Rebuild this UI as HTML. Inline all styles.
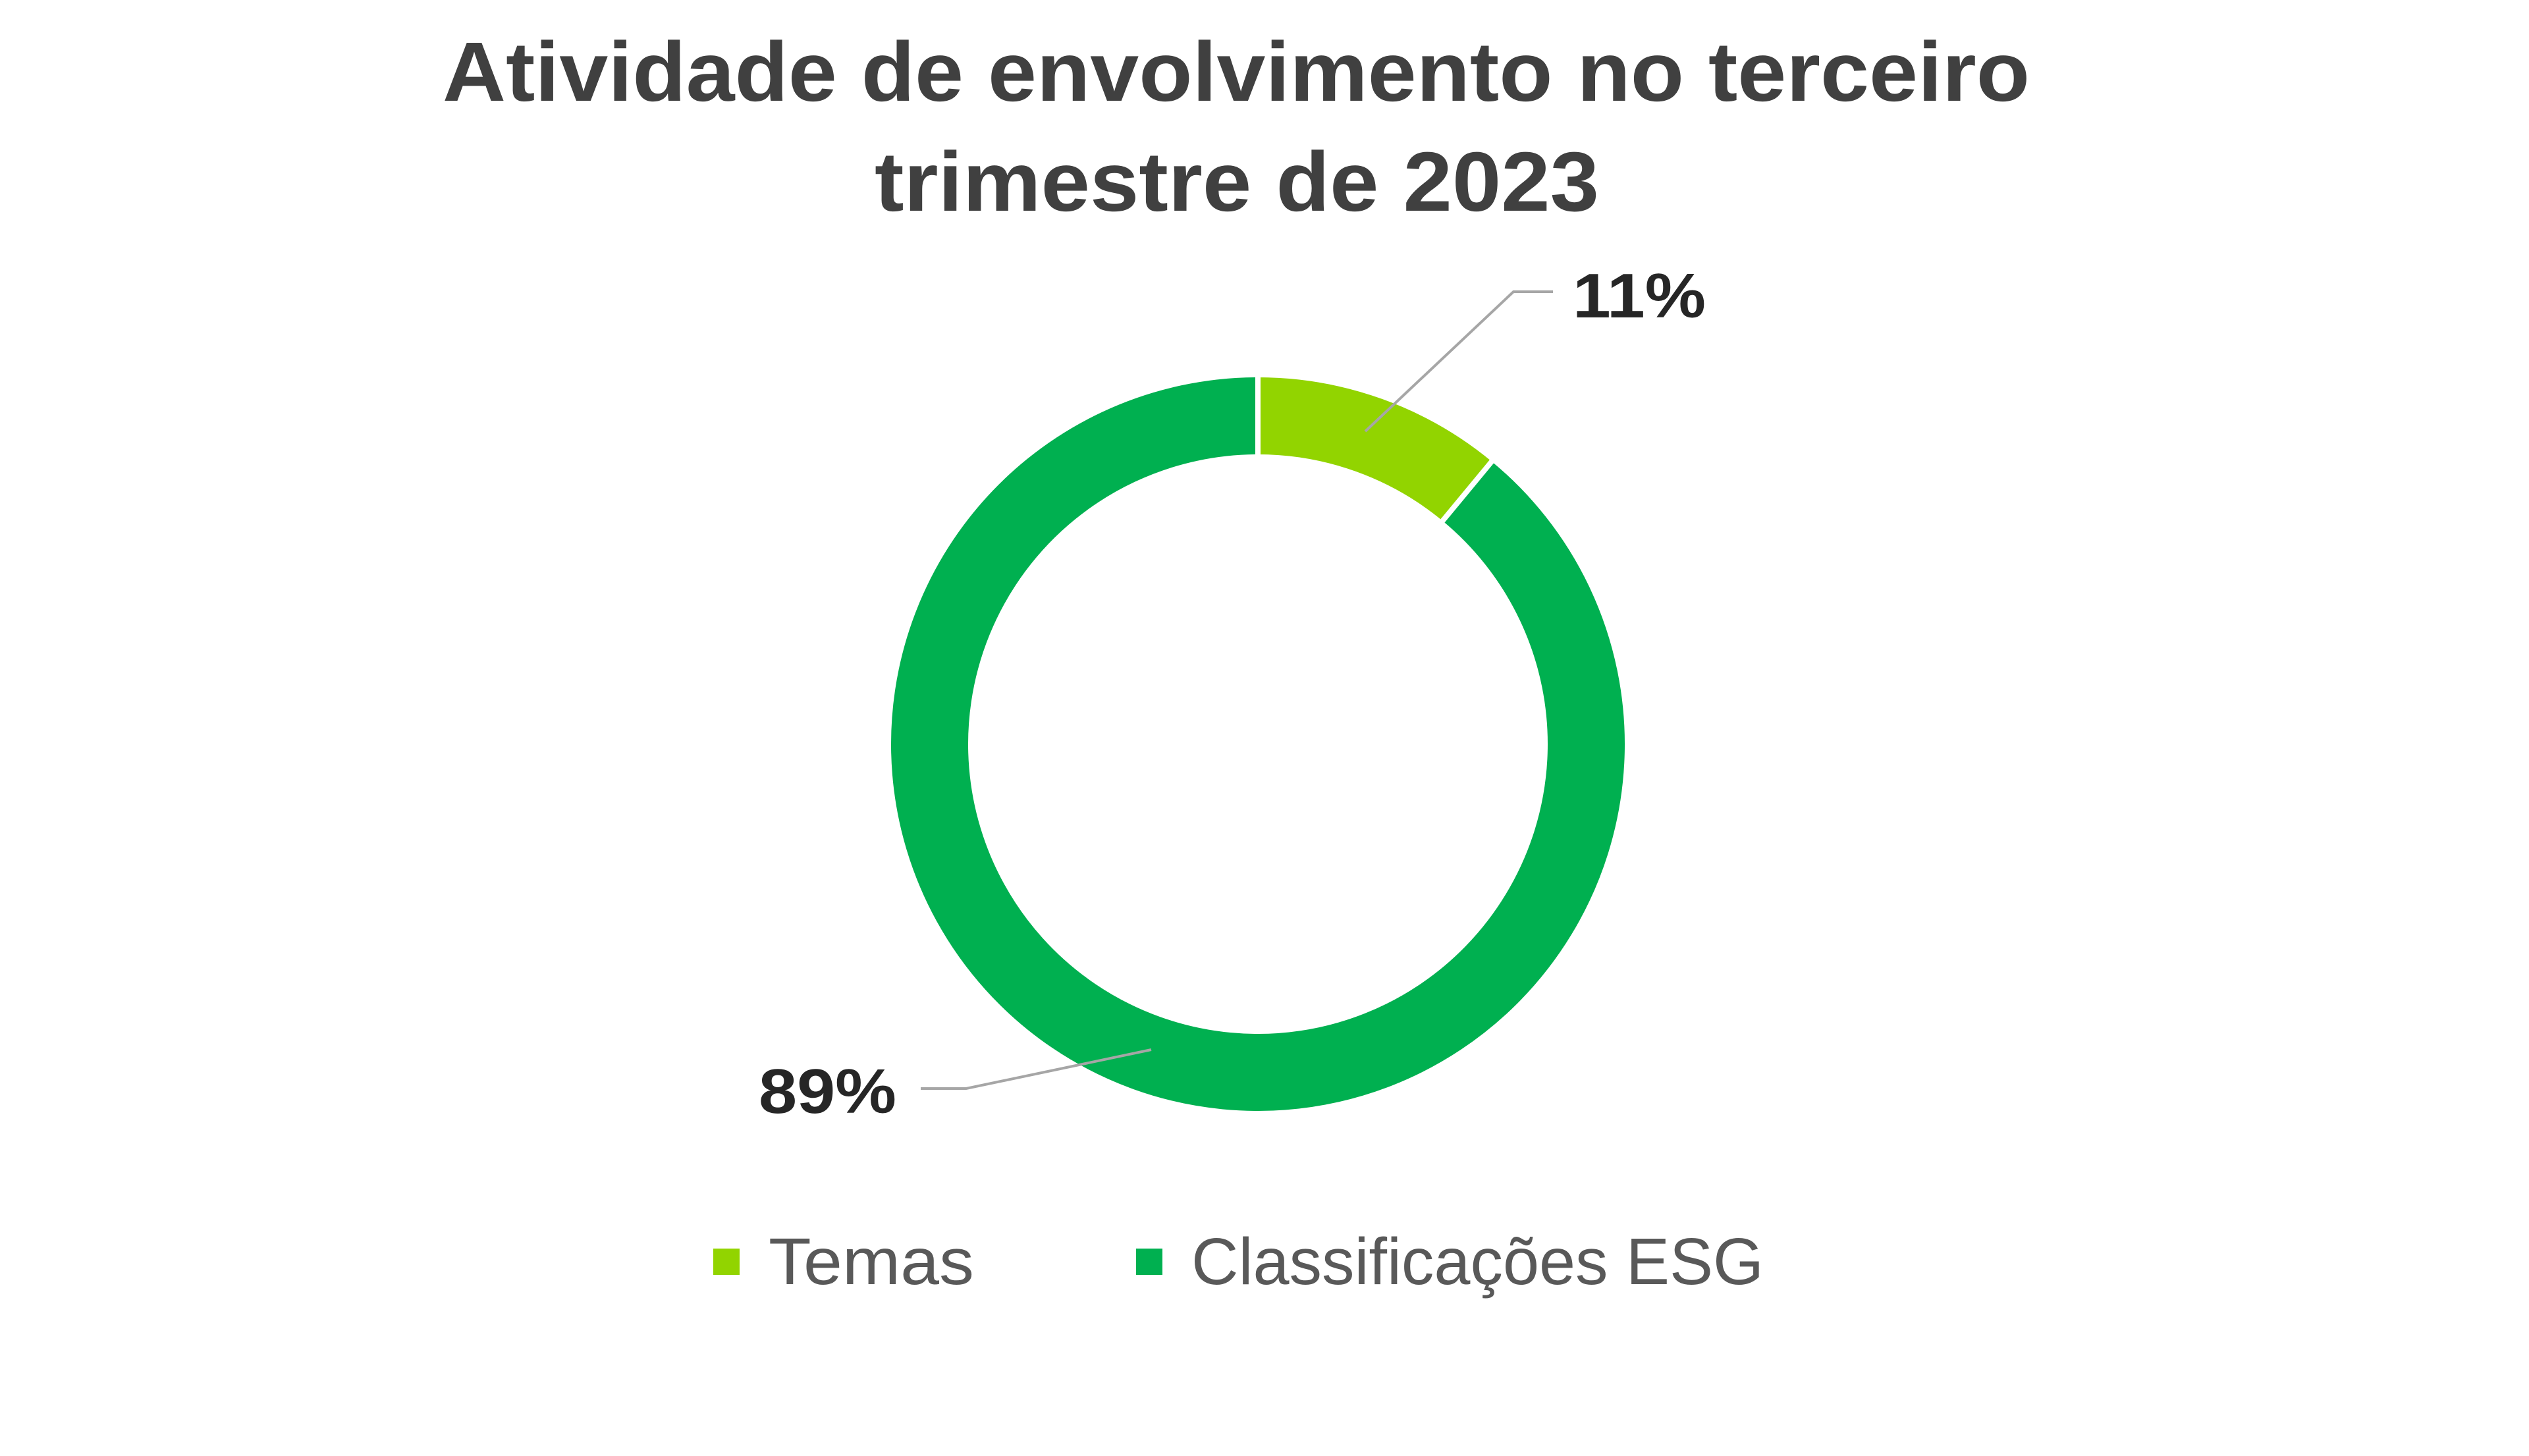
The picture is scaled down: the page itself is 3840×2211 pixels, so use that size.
<!DOCTYPE html>
<html><head><meta charset="utf-8"><style>
html,body{margin:0;padding:0;background:#fff;}
svg{display:block;}
text{font-family:"Liberation Sans",sans-serif;}
</style></head><body>
<svg id="chart" width="3840" height="2211" viewBox="0 0 3840 2211">
<text x="1877" y="153" text-anchor="middle" font-size="128" font-weight="bold" fill="#404040" textLength="2410" lengthAdjust="spacingAndGlyphs">Atividade de envolvimento no terceiro</text>
<text x="1878" y="320" text-anchor="middle" font-size="128" font-weight="bold" fill="#404040" textLength="1100" lengthAdjust="spacingAndGlyphs">trimestre de 2023</text>
<g id="slices"></g>
<polyline points="2073,655 2298,443 2358,443" fill="none" stroke="#a6a6a6" stroke-width="4"/>
<polyline points="1398,1653 1467,1653 1748,1594" fill="none" stroke="#a6a6a6" stroke-width="4"/>
<g id="labels"></g>
<rect x="1083" y="1896" width="40" height="40" fill="#92d400"/>
<text x="1167" y="1950" font-size="100" fill="#595959" textLength="312" lengthAdjust="spacingAndGlyphs">Temas</text>
<rect x="1725" y="1896" width="40" height="40" fill="#00b050"/>
<text x="1809" y="1950" font-size="100" fill="#595959" textLength="869" lengthAdjust="spacingAndGlyphs">Classificações ESG</text>
</svg>
<script>
const categories = ["Temas", "Classificações ESG"];
const values = [11, 89];
const colors = ["#92d400", "#00b050"];
const cx = 1910, cy = 1130, R = 561, r = 436;
const ns = "http://www.w3.org/2000/svg";
const total = values.reduce((a,b)=>a+b,0);
function pt(rad, a){ return [cx + rad*Math.sin(a), cy - rad*Math.cos(a)]; }
let start = 0;
const g = document.getElementById('slices');
const lg = document.getElementById('labels');
values.forEach((v,i)=>{
  const end = start + v/total*2*Math.PI;
  const large = (end-start) > Math.PI ? 1 : 0;
  const [x1,y1]=pt(R,start),[x2,y2]=pt(R,end),[x3,y3]=pt(r,end),[x4,y4]=pt(r,start);
  const p = document.createElementNS(ns,'path');
  p.setAttribute('d',`M${x1},${y1} A${R},${R} 0 ${large} 1 ${x2},${y2} L${x3},${y3} A${r},${r} 0 ${large} 0 ${x4},${y4} Z`);
  p.setAttribute('fill',colors[i]);
  p.setAttribute('stroke','#fff');
  p.setAttribute('stroke-width','8');
  
  
  g.appendChild(p);
  const t = document.createElementNS(ns,'text');
  const pos = i===0 ? [2388,482] : [1152,1690];
  t.setAttribute('x',pos[0]); t.setAttribute('y',pos[1]);
  t.setAttribute('font-size','96'); t.setAttribute('font-weight','bold'); t.setAttribute('fill','#262626');
  t.setAttribute('textLength', i===0 ? '202' : '209');
  t.setAttribute('lengthAdjust','spacingAndGlyphs');
  t.textContent = v + '%';
  
  
  lg.appendChild(t);
  start = end;
});
</script>
</body></html>
